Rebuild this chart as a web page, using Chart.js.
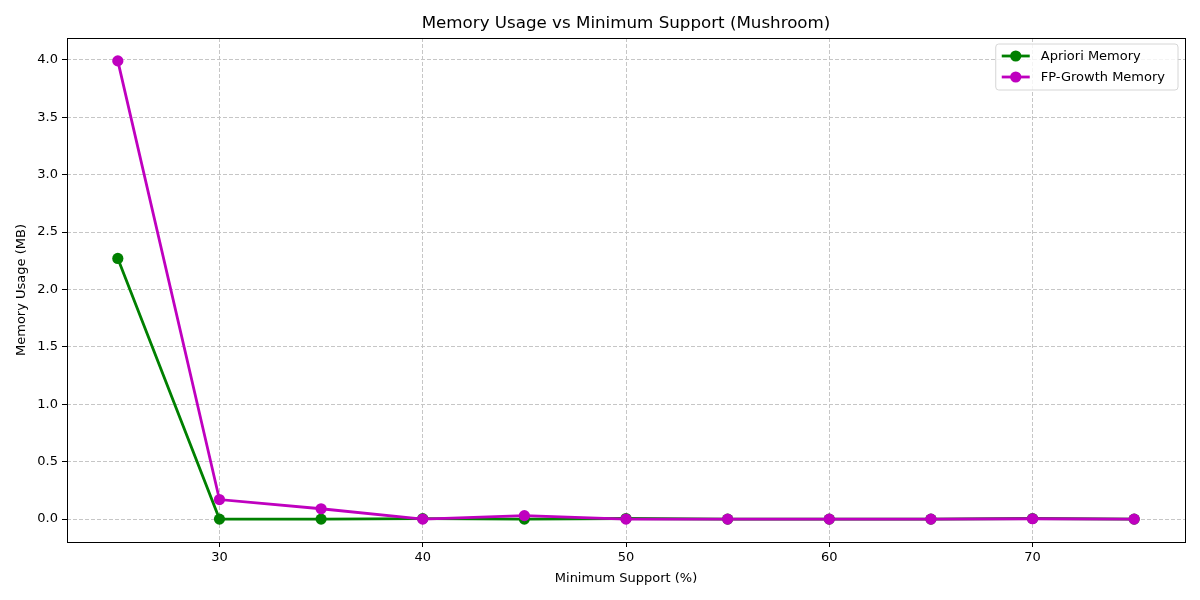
<!DOCTYPE html>
<html><head><meta charset="utf-8">
<script src="https://cdn.jsdelivr.net/npm/chart.js@4"></script>
<style>html,body{margin:0;padding:0;background:#fff}#wrap{width:1200px;height:600px}</style>
</head><body><div id="wrap"><canvas id="c" width="1200" height="600"></canvas></div>
<script>
const minSupport = [25, 30, 35, 40, 45, 50, 55, 60, 65, 70, 75];
const aprioriMemory = [2.27, 0.0, 0.0, 0.004, 0.0, 0.005, 0.0, 0.0, 0.0, 0.005, 0.0];
const fpGrowthMemory = [3.99, 0.17, 0.09, 0.0, 0.03, 0.0, 0.0, 0.0, 0.0, 0.003, 0.0];
const xTicks = [30, 40, 50, 60, 70];
const yTicks = [0, 0.5, 1.0, 1.5, 2.0, 2.5, 3.0, 3.5, 4.0];
const titleText = 'Memory Usage vs Minimum Support (Mushroom)';
const xLabel = 'Minimum Support (%)';
const yLabel = 'Memory Usage (MB)';

const FONT = '"DejaVu Sans", sans-serif';
const toPts = (xs, ys) => xs.map((x, i) => ({x, y: ys[i]}));

const framePlugin = {
  id: 'frame',
  afterDraw(chart) {
    const {ctx, chartArea: a} = chart;
    ctx.save();
    ctx.strokeStyle = '#000'; ctx.lineWidth = 1;
    ctx.strokeRect(Math.round(a.left) + 0.5, Math.round(a.top) + 0.5, Math.round(a.right - a.left), Math.round(a.bottom - a.top));
    // title
    ctx.fillStyle = '#000';
    ctx.font = '16.7px ' + FONT;
    ctx.textAlign = 'center'; ctx.textBaseline = 'alphabetic';
    ctx.fillText(titleText, (a.left + a.right) / 2, 28);
    // legend
    const ds = chart.data.datasets;
    ctx.font = '13px ' + FONT;
    let maxW = 0;
    ds.forEach(d => { maxW = Math.max(maxW, ctx.measureText(d.label).width); });
    const bw = 14 + 28 + 8 + maxW + 8;
    const bh = 46;
    const bx = a.right - 7 - bw, by = a.top + 6;
    ctx.beginPath();
    const r = 3;
    ctx.moveTo(bx + r, by); ctx.arcTo(bx + bw, by, bx + bw, by + bh, r); ctx.arcTo(bx + bw, by + bh, bx, by + bh, r);
    ctx.arcTo(bx, by + bh, bx, by, r); ctx.arcTo(bx, by, bx + bw, by, r); ctx.closePath();
    ctx.fillStyle = 'rgba(255,255,255,0.8)'; ctx.fill();
    ctx.strokeStyle = '#d6d6d6'; ctx.lineWidth = 1; ctx.stroke();
    ds.forEach((d, i) => {
      const cy = by + 12 + i * 21;
      ctx.strokeStyle = d.borderColor; ctx.lineWidth = 2.8;
      ctx.beginPath(); ctx.moveTo(bx + 6, cy); ctx.lineTo(bx + 34, cy); ctx.stroke();
      ctx.fillStyle = d.borderColor;
      ctx.beginPath(); ctx.arc(bx + 20, cy, 5.6, 0, Math.PI * 2); ctx.fill();
      ctx.fillStyle = '#000'; ctx.textAlign = 'left'; ctx.textBaseline = 'middle';
      ctx.fillText(d.label, bx + 45, cy + 1);
    });
    ctx.restore();
  }
};

new Chart(document.getElementById('c'), {
  type: 'line',
  data: {
    datasets: [
      {label: 'Apriori Memory', data: toPts(minSupport, aprioriMemory), borderColor: '#008000', backgroundColor: '#008000',
       borderWidth: 2.8, pointRadius: 5.6, pointHoverRadius: 5.6, pointBorderWidth: 0, tension: 0, order: 1},
      {label: 'FP-Growth Memory', data: toPts(minSupport, fpGrowthMemory), borderColor: '#bf00bf', backgroundColor: '#bf00bf',
       borderWidth: 2.8, pointRadius: 5.6, pointHoverRadius: 5.6, pointBorderWidth: 0, tension: 0, order: 0}
    ]
  },
  options: {
    responsive: false, animation: false, devicePixelRatio: 1,
    layout: {padding: {left: 14, right: 15, top: 38, bottom: 14}},
    plugins: {legend: {display: false}, tooltip: {enabled: false}, title: {display: false}},
    scales: {
      x: {
        type: 'linear', min: 22.5, max: 77.5,
        afterBuildTicks: s => { s.ticks = xTicks.map(v => ({value: v})); },
        afterFit: s => { s.height = 44; },
        ticks: {color: '#000', font: {family: FONT, size: 13}, padding: 3, maxRotation: 0, callback: v => String(v)},
        grid: {color: '#c6c6c6', lineWidth: 1, tickColor: '#000', tickLength: 5, tickWidth: 1, tickBorderDash: []},
        border: {display: false, dash: [4, 2]},
        title: {display: true, text: xLabel, color: '#000', font: {family: FONT, size: 13}, padding: {top: 2, bottom: 0}}
      },
      y: {
        type: 'linear', min: -0.1995, max: 4.1895,
        afterBuildTicks: s => { s.ticks = yTicks.map(v => ({value: v})); },
        afterFit: s => { s.width = 53; },
        ticks: {color: '#000', font: {family: FONT, size: 13}, padding: 4, callback: v => Number(v).toFixed(1)},
        grid: {color: '#c6c6c6', lineWidth: 1, tickColor: '#000', tickLength: 5, tickWidth: 1, tickBorderDash: []},
        border: {display: false, dash: [4, 2]},
        title: {display: true, text: yLabel, color: '#000', font: {family: FONT, size: 13}, padding: {top: 0, bottom: 4}}
      }
    }
  },
  plugins: [framePlugin]
});
</script>
</body></html>
